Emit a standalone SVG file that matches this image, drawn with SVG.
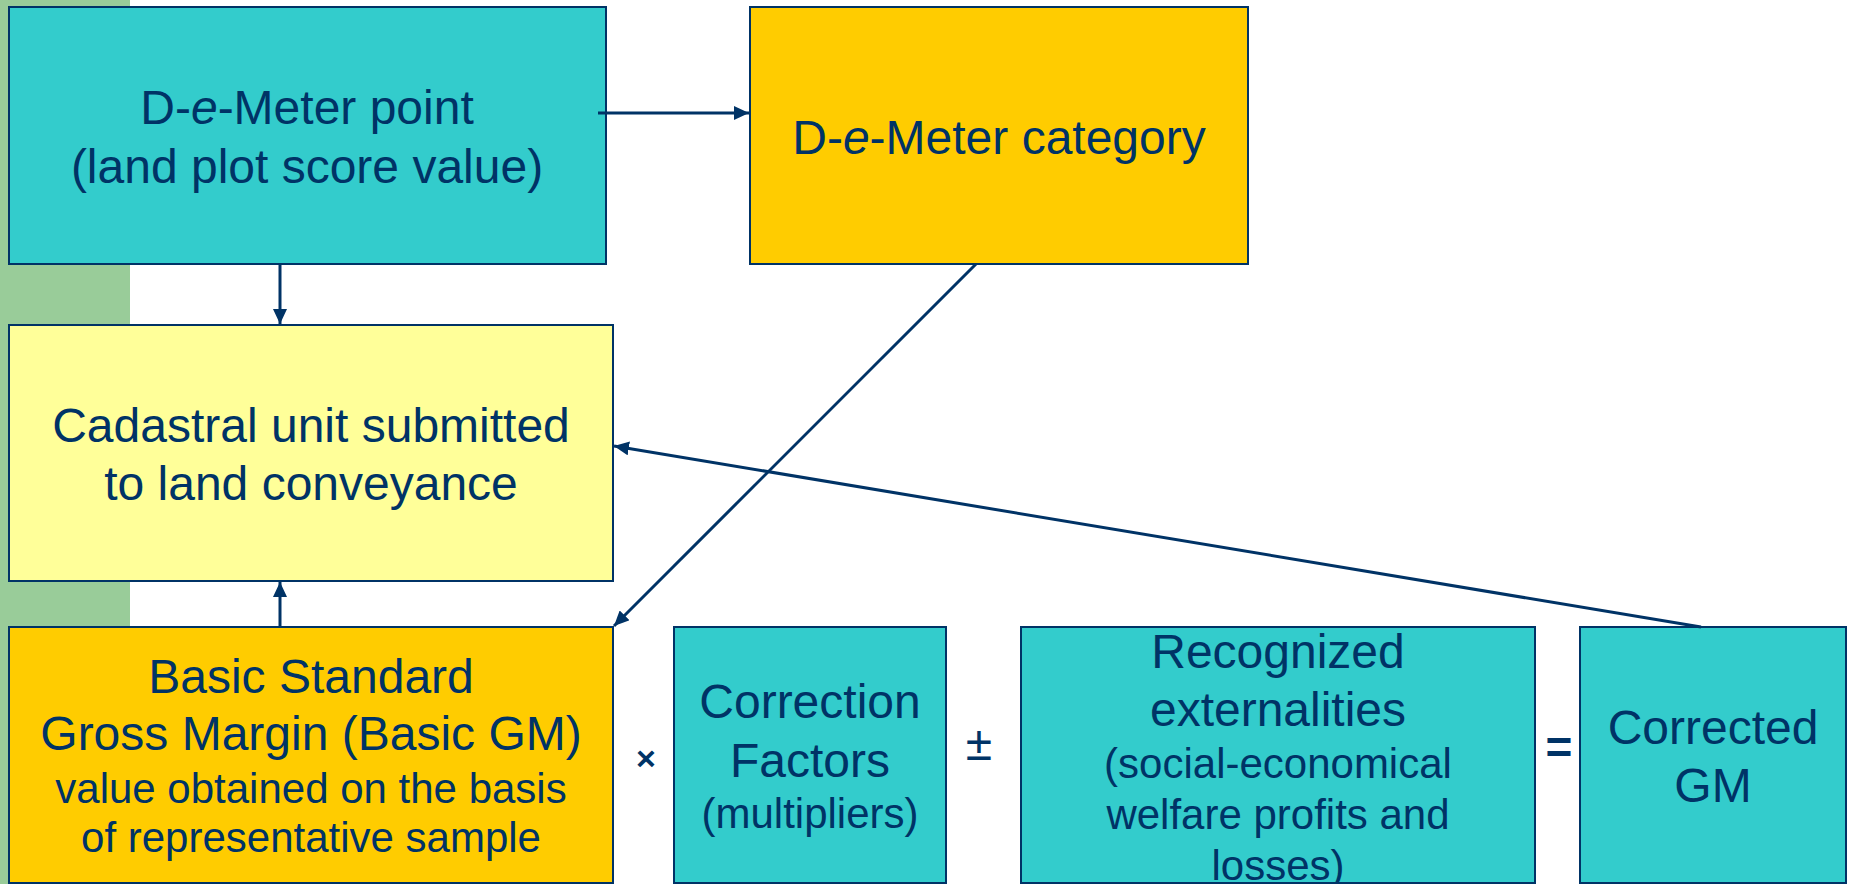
<svg xmlns="http://www.w3.org/2000/svg" width="1849" height="884" viewBox="0 0 1849 884">
  <style>
    .box { stroke: #003366; stroke-width: 2; }
    .teal { fill: #33CCCC; }
    .gold { fill: #FFCC00; }
    .pale { fill: #FFFF99; }
    .lbl { font-family: "Liberation Sans", Arial, sans-serif; fill: #003366; text-anchor: middle; }
    .big { font-size: 48px; }
    .small { font-size: 42px; }
    .op { font-family: "Liberation Sans", Arial, sans-serif; fill: #003366; text-anchor: middle; }
    .link { stroke: #003366; stroke-width: 3; fill: none; }
  </style>
  <defs>
    <marker id="head" markerUnits="userSpaceOnUse" markerWidth="16" markerHeight="14" refX="15" refY="7" orient="auto">
      <path d="M0,0 L15,7 L0,14 z" fill="#003366"/>
    </marker>
  </defs>

  <rect width="1849" height="884" fill="#FFFFFF"/>
  <!-- left accent band -->
  <rect x="0" y="0" width="130" height="884" fill="#99CC99"/>

  <g id="dem-point">
    <rect class="box teal" x="9" y="7" width="597" height="257"/>
    <text class="lbl big" x="307" y="124">D-<tspan font-style="italic">e</tspan>-Meter point</text>
    <text class="lbl big" x="307" y="183">(land plot score value)</text>
  </g>

  <g id="dem-category">
    <rect class="box gold" x="750" y="7" width="498" height="257"/>
    <text class="lbl big" x="999" y="154">D-<tspan font-style="italic">e</tspan>-Meter category</text>
  </g>

  <g id="cadastral-unit">
    <rect class="box pale" x="9" y="325" width="604" height="256"/>
    <text class="lbl big" x="311" y="442">Cadastral unit submitted</text>
    <text class="lbl big" x="311" y="500">to land conveyance</text>
  </g>

  <g id="basic-gm">
    <rect class="box gold" x="9" y="627" width="604" height="256"/>
    <text class="lbl big" x="311" y="693">Basic Standard</text>
    <text class="lbl big" x="311" y="750">Gross Margin (Basic GM)</text>
    <text class="lbl small" x="311" y="803">value obtained on the basis</text>
    <text class="lbl small" x="311" y="852">of representative sample</text>
  </g>

  <g id="correction-factors">
    <rect class="box teal" x="674" y="627" width="272" height="256"/>
    <text class="lbl big" x="810" y="718">Correction</text>
    <text class="lbl big" x="810" y="777">Factors</text>
    <text class="lbl small" x="810" y="828">(multipliers)</text>
  </g>

  <g id="externalities">
    <rect class="box teal" x="1021" y="627" width="514" height="256"/>
    <text class="lbl big" x="1278" y="668">Recognized</text>
    <text class="lbl big" x="1278" y="726">externalities</text>
    <text class="lbl small" x="1278" y="778">(social-economical</text>
    <text class="lbl small" x="1278" y="829">welfare profits and</text>
    <text class="lbl small" x="1278" y="880">losses)</text>
  </g>

  <g id="corrected-gm">
    <rect class="box teal" x="1580" y="627" width="266" height="256"/>
    <text class="lbl big" x="1713" y="744">Corrected</text>
    <text class="lbl big" x="1713" y="802">GM</text>
  </g>

  <g id="operators">
    <text class="op" x="646" y="770" font-size="34" font-weight="bold">×</text>
    <text class="op" x="979" y="760" font-size="48">±</text>
    <text class="op" x="1559" y="763" font-size="46" font-weight="bold">=</text>
  </g>

  <g id="connectors">
    <line class="link" x1="598" y1="113" x2="749" y2="113" marker-end="url(#head)"/>
    <line class="link" x1="280" y1="264" x2="280" y2="324" marker-end="url(#head)"/>
    <line class="link" x1="280" y1="627" x2="280" y2="582" marker-end="url(#head)"/>
    <line class="link" x1="976" y1="264" x2="614" y2="626" marker-end="url(#head)"/>
    <line class="link" x1="1701" y1="627" x2="614" y2="446" marker-end="url(#head)"/>
  </g>
</svg>
